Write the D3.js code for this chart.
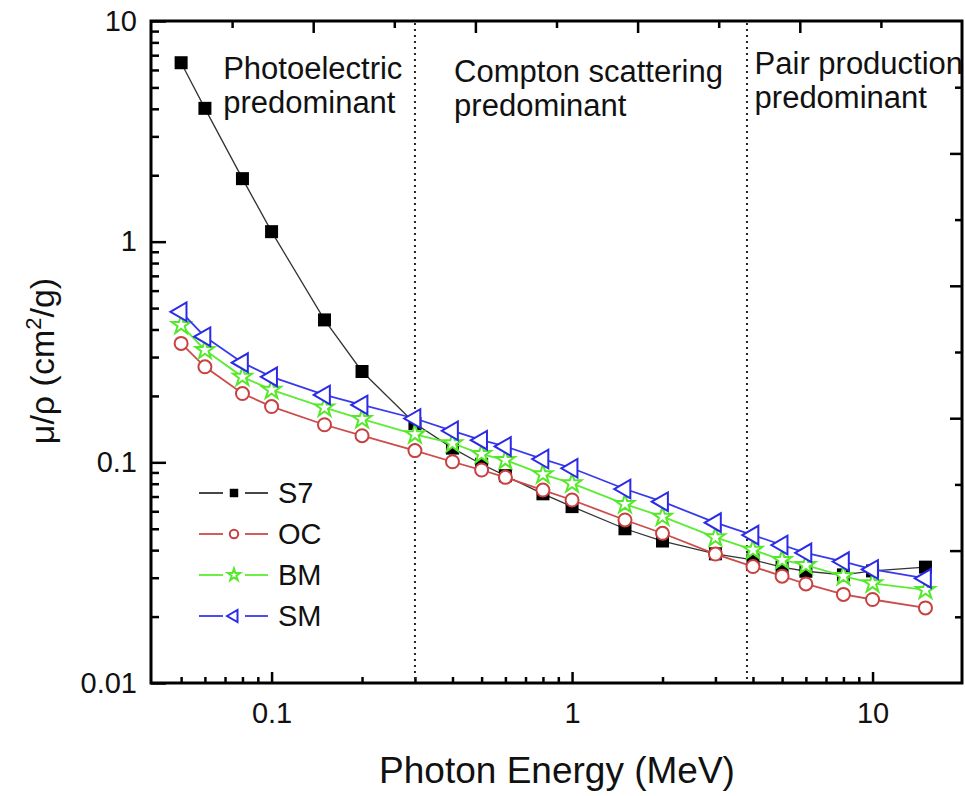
<!doctype html>
<html>
<head>
<meta charset="UTF-8">
<script src="https://cdn.jsdelivr.net/npm/d3@7"></script>
<style>
  body { margin: 0; background: #fff; }
  text { font-family: "Liberation Sans", Arial, sans-serif; fill: #111; }
</style>
</head>
<body>
<div id="chart"></div>
<script>
// photon energies (MeV)
var energies = [0.05, 0.06, 0.08, 0.1, 0.15, 0.2, 0.3, 0.4, 0.5, 0.6, 0.8, 1, 1.5, 2, 3, 4, 5, 6, 8, 10, 15];

// mass attenuation coefficients (cm2/g)
var s7 = [6.47, 4.02, 1.93, 1.11, 0.442, 0.258, 0.150, 0.116, 0.098, 0.087, 0.072, 0.063, 0.050, 0.044, 0.0385, 0.0361, 0.0335, 0.0321, 0.0309, 0.0322, 0.0335];
var oc = [0.346, 0.271, 0.205, 0.179, 0.148, 0.132, 0.113, 0.1006, 0.0923, 0.0855, 0.0749, 0.0675, 0.0548, 0.0477, 0.0384, 0.0337, 0.0305, 0.0281, 0.0252, 0.0239, 0.0219];
var bm = [0.419, 0.323, 0.244, 0.213, 0.177, 0.157, 0.134, 0.122, 0.109, 0.1024, 0.0882, 0.0803, 0.0647, 0.0567, 0.0457, 0.0401, 0.0361, 0.0342, 0.0305, 0.0283, 0.0264];
var sm = [0.481, 0.371, 0.283, 0.244, 0.202, 0.182, 0.158, 0.139, 0.126, 0.118, 0.1035, 0.094, 0.0757, 0.0663, 0.0533, 0.0468, 0.0422, 0.0389, 0.0355, 0.0327, 0.0298];

var seriesNames = ["S7", "OC", "BM", "SM"];
var seriesValues = [s7, oc, bm, sm];

var xTicks = [0.1, 1, 10];
var xTickLabels = ["0.1", "1", "10"];
var yTicks = [0.01, 0.1, 1, 10];
var yTickLabels = ["0.01", "0.1", "1", "10"];

// region boundaries (MeV) and labels
var boundaries = [0.3, 3.82];
var regionLabels = [
  {x: 0.069, lines: ["Photoelectric", "predominant"], dy: 0},
  {x: 0.405, lines: ["Compton scattering", "predominant"], dy: 3},
  {x: 4.05, lines: ["Pair production", "predominant"], dy: -5}
];

var W = 965, H = 796;
var x0 = 151, x1 = 962, y0 = 683, y1 = 21;

var svg = d3.select("#chart").append("svg")
  .attr("width", W).attr("height", H);

var x = d3.scaleLog().domain([0.04, 20]).range([152, 963]);
var y = d3.scaleLog().domain([0.01, 10]).range([y0, y1]);

// minor ticks for log axes
var xMinor = [], yMinor = [];
[0.01, 0.1, 1, 10].forEach(function (d) {
  for (var k = 2; k <= 9; k++) {
    var v = d * k;
    if (v > 0.04 && v < 20) xMinor.push(v);
  }
});
[0.01, 0.1, 1].forEach(function (d) {
  for (var k = 2; k <= 9; k++) yMinor.push(d * k);
});

function styleAxis(g) {
  g.select(".domain").remove();
  g.selectAll(".tick line").attr("stroke", "#000").attr("stroke-width", 2.5);
  g.selectAll(".tick text").style("font-size", "29px").attr("fill", "#111");
}

// bottom axis
svg.append("g").attr("transform", "translate(0," + y0 + ")")
  .call(d3.axisBottom(x).tickValues(xMinor).tickFormat("").tickSizeInner(-6).tickSizeOuter(0))
  .call(styleAxis);
svg.append("g").attr("transform", "translate(0," + y0 + ")")
  .call(d3.axisBottom(x).tickValues(xTicks).tickFormat(function (d, i) { return xTickLabels[i]; })
    .tickSizeInner(-11).tickSizeOuter(0).tickPadding(19))
  .call(styleAxis);

// left axis
svg.append("g").attr("transform", "translate(" + x0 + ",0)")
  .call(d3.axisLeft(y).tickValues(yMinor).tickFormat("").tickSizeInner(-8).tickSizeOuter(0))
  .call(styleAxis);
svg.append("g").attr("transform", "translate(" + x0 + ",0)")
  .call(d3.axisLeft(y).tickValues(yTicks).tickFormat(function (d, i) { return yTickLabels[i]; })
    .tickSizeInner(-15).tickSizeOuter(0).tickPadding(14))
  .call(styleAxis);

// top and right axes (linear, no labels)
var xt = d3.scaleLinear().domain([0, 10]).range([x0, x1]);
var yr = d3.scaleLinear().domain([0, 10]).range([y0, y1]);
svg.append("g").attr("transform", "translate(0," + y1 + ")")
  .call(d3.axisTop(xt).tickValues([1, 3, 5, 7, 9]).tickFormat("").tickSizeInner(-7).tickSizeOuter(0))
  .call(styleAxis);
svg.append("g").attr("transform", "translate(0," + y1 + ")")
  .call(d3.axisTop(xt).tickValues([2, 4, 6, 8]).tickFormat("").tickSizeInner(-12).tickSizeOuter(0))
  .call(styleAxis);
svg.append("g").attr("transform", "translate(" + x1 + ",0)")
  .call(d3.axisRight(yr).tickValues([1, 3, 5, 7, 9]).tickFormat("").tickSizeInner(-7).tickSizeOuter(0))
  .call(styleAxis);
svg.append("g").attr("transform", "translate(" + x1 + ",0)")
  .call(d3.axisRight(yr).tickValues([2, 4, 6, 8]).tickFormat("").tickSizeInner(-12).tickSizeOuter(0))
  .call(styleAxis);

// frame
svg.append("rect")
  .attr("x", x0).attr("y", y1).attr("width", x1 - x0).attr("height", y0 - y1)
  .attr("fill", "none").attr("stroke", "#000").attr("stroke-width", 3);

// dotted region boundaries
svg.selectAll(".bound").data(boundaries).enter().append("line")
  .attr("x1", d => x(d)).attr("x2", d => x(d))
  .attr("y1", y1 + 2).attr("y2", y0 - 2)
  .attr("stroke", "#222").attr("stroke-width", 2).attr("stroke-dasharray", "2,4");

// region labels
regionLabels.forEach(function (r) {
  var t = svg.append("text").attr("x", x(r.x)).attr("y", 79 + r.dy).style("font-size", "31px");
  r.lines.forEach(function (l, i) {
    t.append("tspan").attr("x", x(r.x)).attr("dy", i == 0 ? 0 : 34).text(l);
  });
});

// series styles
var colors = ["#000000", "#c84040", "#55e82a", "#2a2ae8"];
var lineColors = ["#333333", "#cc4c4c", "#5cec33", "#3a3aec"];

function marker(g, i, small) {
  var k = small ? 0.65 : 1;
  if (i == 0) {
    g.append("rect").attr("x", -6.5 * k).attr("y", -6.5 * k).attr("width", 13 * k).attr("height", 13 * k)
      .attr("fill", "#000");
  } else if (i == 1) {
    g.append("circle").attr("r", 6.5 * k).attr("fill", "#fff")
      .attr("stroke", colors[1]).attr("stroke-width", 2);
  } else if (i == 2) {
    g.append("path").attr("d", d3.symbol(d3.symbolStar, 110 * k * k)())
      .attr("fill", "#fff").attr("stroke", colors[2]).attr("stroke-width", 2);
  } else {
    g.append("path").attr("d", d3.symbol(d3.symbolTriangle, 150 * k * k)())
      .attr("transform", "rotate(-90)")
      .attr("fill", "#fff").attr("stroke", colors[3]).attr("stroke-width", 2);
  }
}

var line = d3.line().x(d => x(d[0])).y(d => y(d[1]));

seriesValues.forEach(function (vals, i) {
  var pts = energies.map((e, j) => [e, vals[j]]);
  svg.append("path").datum(pts).attr("d", line)
    .attr("fill", "none").attr("stroke", lineColors[i]).attr("stroke-width", i == 0 ? 1.3 : 1.8);
  svg.append("g").selectAll("g").data(pts).enter().append("g")
    .attr("transform", d => "translate(" + x(d[0]) + "," + y(d[1]) + ")")
    .each(function () { marker(d3.select(this), i, false); });
});

// legend
var lg = svg.append("g");
seriesNames.forEach(function (name, i) {
  var ly = 493 + i * 41;
  lg.append("line").attr("x1", 199).attr("x2", 223).attr("y1", ly).attr("y2", ly)
    .attr("stroke", lineColors[i]).attr("stroke-width", 1.8);
  lg.append("line").attr("x1", 245).attr("x2", 268).attr("y1", ly).attr("y2", ly)
    .attr("stroke", lineColors[i]).attr("stroke-width", 1.8);
  marker(lg.append("g").attr("transform", "translate(234," + ly + ")"), i, true);
  lg.append("text").attr("x", 278).attr("y", ly).attr("dy", "0.36em")
    .style("font-size", "29px").text(name);
});

// axis titles
svg.append("text")
  .attr("x", 557).attr("y", 783)
  .attr("text-anchor", "middle")
  .style("font-size", "37px")
  .text("Photon Energy (MeV)");

var yt = svg.append("text")
  .attr("transform", "translate(54,361) rotate(-90)")
  .attr("text-anchor", "middle")
  .style("font-size", "34px");
yt.append("tspan").text("\u03bc/\u03c1 (cm");
yt.append("tspan").attr("dy", -13).style("font-size", "22px").text("2");
yt.append("tspan").attr("dy", 13).text("/g)");
</script>
</body>
</html>
